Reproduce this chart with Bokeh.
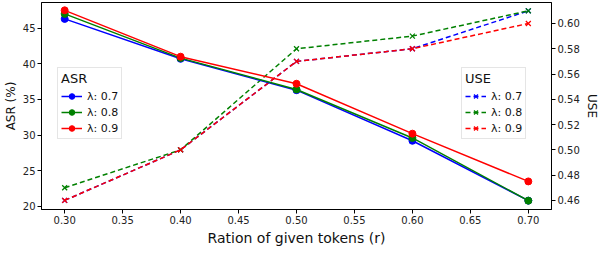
from bokeh.plotting import figure
from bokeh.models import Range1d, LinearAxis, Legend, LegendItem, FixedTicker, PrintfTickFormatter
from bokeh.embed import file_html
from bokeh.resources import INLINE

ratios = [0.30, 0.40, 0.50, 0.60, 0.70]
lambdas = ["λ: 0.7", "λ: 0.8", "λ: 0.9"]
colors = ["blue", "green", "red"]

asr_07 = [46.3, 40.7, 36.3, 29.2, 20.8]
asr_08 = [47.0, 40.8, 36.4, 29.6, 20.8]
asr_09 = [47.5, 41.0, 37.2, 30.2, 23.5]

use_07 = [0.46, 0.50, 0.57, 0.58, 0.61]
use_08 = [0.47, 0.50, 0.58, 0.59, 0.61]
use_09 = [0.46, 0.50, 0.57, 0.58, 0.60]

x_ticks = [0.30, 0.35, 0.40, 0.45, 0.50, 0.55, 0.60, 0.65, 0.70]
asr_ticks = [20, 25, 30, 35, 40, 45]
use_ticks = [0.46, 0.48, 0.50, 0.52, 0.54, 0.56, 0.58, 0.60]

FONT = "DejaVu Sans"
FW, FH = 510, 207

p = figure(frame_width=FW, frame_height=FH, output_backend="svg", toolbar_location=None,
           x_range=Range1d(0.28, 0.72), y_range=Range1d(19.56, 48.6),
           min_border_left=0, min_border_right=0, min_border_top=2, min_border_bottom=0)
p.extra_y_ranges = {"use": Range1d(0.4528, 0.6166)}
p.xgrid.visible = False
p.ygrid.visible = False
p.outline_line_color = "black"
p.outline_line_alpha = 1
p.outline_line_width = 1
p.background_fill_color = "white"
p.border_fill_color = "white"

def style_axis(ax, ticks, fmt):
    ax.ticker = FixedTicker(ticks=ticks)
    ax.formatter = PrintfTickFormatter(format=fmt)
    ax.major_label_text_font = FONT
    ax.major_label_text_font_size = "10px"
    ax.major_label_text_color = "#222222"
    ax.major_tick_in = 0
    ax.major_tick_out = 4
    ax.minor_tick_line_color = None
    ax.axis_line_color = "black"
    ax.major_label_standoff = 2
    ax.axis_label_standoff = 2
    ax.axis_label_text_font = FONT
    ax.axis_label_text_font_style = "normal"
    ax.axis_label_text_color = "#111111"

style_axis(p.xaxis[0], x_ticks, "%.2f")
p.xaxis[0].axis_label = "Ration of given tokens (r)"
p.xaxis[0].axis_label_text_font_size = "14px"
p.xaxis[0].axis_label_standoff = 3
style_axis(p.yaxis[0], asr_ticks, "%d")
p.yaxis[0].axis_label = "ASR (%)"
p.yaxis[0].axis_label_text_font_size = "12px"

ry = LinearAxis(y_range_name="use")
style_axis(ry, use_ticks, "%.2f")
ry.axis_label = "USE"
ry.axis_label_text_font_size = "12px"
p.add_layout(ry, "right")

asr_series = [asr_07, asr_08, asr_09]
use_series = [use_07, use_08, use_09]

use_items = []
for lab, c, ys in zip(lambdas, colors, use_series):
    l = p.line(ratios, ys, y_range_name="use", line_color=c, line_width=1.5, line_dash="5 3")
    s = p.scatter(ratios, ys, y_range_name="use", marker="x", size=7, line_color=c, line_width=1.3)
    use_items.append(LegendItem(label=lab, renderers=[l, s]))

asr_items = []
for lab, c, ys in zip(lambdas, colors, asr_series):
    l = p.line(ratios, ys, line_color=c, line_width=1.5)
    s = p.scatter(ratios, ys, marker="circle", size=7, fill_color=c, line_color=c)
    asr_items.append(LegendItem(label=lab, renderers=[l, s]))

def make_legend(items, title, loc):
    lg = Legend(items=items, title=title, location=loc)
    lg.title_text_font = FONT
    lg.title_text_font_size = "13px"
    lg.title_text_font_style = "normal"
    lg.title_text_color = "#111111"
    lg.title_standoff = 3
    lg.label_text_font = FONT
    lg.label_text_font_size = "11px"
    lg.label_text_color = "#111111"
    lg.label_height = 14
    lg.label_width = 10
    lg.glyph_height = 14
    lg.glyph_width = 21
    lg.label_standoff = 5
    lg.spacing = 2
    lg.padding = 3
    lg.margin = 0
    lg.border_line_color = "#cccccc"
    lg.background_fill_alpha = 0.85
    return lg

p.add_layout(make_legend(asr_items, "ASR", (16, 70)), "center")
p.add_layout(make_legend(use_items, "USE", (FW - 18 - 72, 70)), "center")

open("out.html", "w").write(file_html(p, INLINE))
